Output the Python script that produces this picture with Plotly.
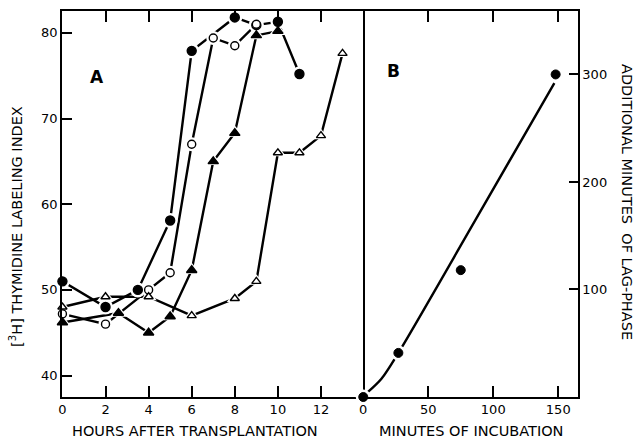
import plotly.graph_objects as go

# Panel A: [3H]thymidine labeling index vs hours after transplantation
hours_filled_circle = [0, 2, 3.5, 5, 6, 8, 9, 10, 11]
index_filled_circle = [51.0, 48.0, 50.0, 58.1, 77.9, 81.8, 80.9, 81.3, 75.2]

hours_open_circle = [0, 2, 4, 5, 6, 7, 8, 9]
index_open_circle = [47.2, 46.0, 50.0, 52.0, 67.0, 79.4, 78.5, 81.0]

hours_filled_tri = [0, 2.6, 4, 5, 6, 7, 8, 9, 10]
index_filled_tri = [46.2, 47.3, 45.0, 46.9, 52.3, 65.0, 68.3, 79.7, 80.2]

hours_open_tri = [0, 2, 4, 6, 8, 9, 10, 11, 12, 13]
index_open_tri = [48.0, 49.2, 49.2, 47.0, 49.0, 51.0, 66.0, 66.0, 68.0, 77.6]

# Panel B: additional lag-phase minutes vs minutes of incubation
incub_minutes = [0, 27, 75, 148]
lag_minutes = [0, 41, 118, 300]
curve_minutes = [3, 14, 27, 86, 147]
curve_lag = [4, 17, 41, 164, 292]

xticks_a = [0, 2, 4, 6, 8, 10, 12]
yticks_a = [40, 50, 60, 70, 80]
xticks_b = [0, 50, 100, 150]
yticks_b = [100, 200, 300]

FONT = "DejaVu Sans"
LW = 2.4
TITLE_SIZE = 14.5

fig = go.Figure()

series_a = [
    (hours_filled_circle, index_filled_circle, "circle", "black", 9),
    (hours_open_circle, index_open_circle, "circle", "white", 8),
    (hours_filled_tri, index_filled_tri, "triangle-up", "black", 9),
    (hours_open_tri, index_open_tri, "triangle-up", "white", 8),
]

# connecting lines first
for xs, ys, sym, fill, size in series_a:
    fig.add_trace(go.Scatter(x=xs, y=ys, mode="lines", xaxis="x", yaxis="y",
                             line=dict(color="black", width=LW),
                             hoverinfo="skip", cliponaxis=False))
fig.add_trace(go.Scatter(x=curve_minutes, y=curve_lag, mode="lines", xaxis="x2", yaxis="y2",
                         line=dict(color="black", width=LW, shape="spline", smoothing=0.8),
                         hoverinfo="skip", cliponaxis=False))

# white halos that break the lines around each symbol
for xs, ys, sym, fill, size in series_a:
    fig.add_trace(go.Scatter(x=xs, y=ys, mode="markers", xaxis="x", yaxis="y",
                             marker=dict(symbol=sym, size=size + 6, color="white",
                                         line=dict(width=0)),
                             hoverinfo="skip", cliponaxis=False))
fig.add_trace(go.Scatter(x=incub_minutes, y=lag_minutes, mode="markers", xaxis="x2", yaxis="y2",
                         marker=dict(symbol="circle", size=15, color="white", line=dict(width=0)),
                         hoverinfo="skip", cliponaxis=False))

# the symbols themselves
for xs, ys, sym, fill, size in series_a:
    fig.add_trace(go.Scatter(x=xs, y=ys, mode="markers", xaxis="x", yaxis="y",
                             marker=dict(symbol=sym, size=size, color=fill,
                                         line=dict(color="black", width=1.4)),
                             cliponaxis=False))
fig.add_trace(go.Scatter(x=incub_minutes, y=lag_minutes, mode="markers", xaxis="x2", yaxis="y2",
                         marker=dict(symbol="circle", size=9, color="black",
                                     line=dict(color="black", width=1)),
                         cliponaxis=False))

split = 301 / 516
axis_common = dict(showline=True, linecolor="black", linewidth=1.5, ticks="inside",
                   tickcolor="black", tickwidth=1.5, showgrid=False, zeroline=False,
                   tickfont=dict(family=FONT, size=13, color="black"))

fig.update_layout(
    width=637, height=441,
    margin=dict(l=62, r=59, t=9, b=44),
    paper_bgcolor="white", plot_bgcolor="white",
    showlegend=False,
    xaxis=dict(domain=[0, split], anchor="y", range=[-0.02, 13.95],
               tickvals=xticks_a, ticklen=11, mirror="ticks", **axis_common),
    yaxis=dict(domain=[0, 1], anchor="x", range=[37.5, 82.55],
               tickvals=yticks_a, ticklen=10, mirror=True, **axis_common),
    xaxis2=dict(domain=[split, 1], anchor="y2", range=[-0.2, 165.2],
                tickvals=xticks_b, ticklen=11, mirror="ticks", **axis_common),
    yaxis2=dict(domain=[0, 1], anchor="x2", side="right", range=[0, 359],
                tickvals=yticks_b, ticklen=9, mirror=False, **axis_common),
    annotations=[
        dict(text="<b>A</b>", x=1.6, y=74.8, xref="x", yref="y", showarrow=False,
             font=dict(family=FONT, size=17, color="black")),
        dict(text="<b>B</b>", x=23.5, y=303, xref="x2", yref="y2", showarrow=False,
             font=dict(family=FONT, size=17, color="black")),
        dict(text="HOURS AFTER TRANSPLANTATION", x=(195 - 62) / 516, y=(397 - 431) / 388,
             xref="paper", yref="paper", showarrow=False, xanchor="center", yanchor="middle",
             font=dict(family=FONT, size=TITLE_SIZE, color="black")),
        dict(text="MINUTES OF INCUBATION", x=(471 - 62) / 516, y=(397 - 431) / 388,
             xref="paper", yref="paper", showarrow=False, xanchor="center", yanchor="middle",
             font=dict(family=FONT, size=TITLE_SIZE, color="black")),
        dict(text="[<sup>3</sup>H] THYMIDINE LABELING INDEX", x=(16 - 62) / 516, y=(397 - 226) / 388,
             xref="paper", yref="paper", showarrow=False, textangle=-90,
             xanchor="center", yanchor="middle",
             font=dict(family=FONT, size=TITLE_SIZE, color="black")),
        dict(text="ADDITIONAL MINUTES  OF LAG-PHASE", x=(627 - 62) / 516, y=(397 - 201) / 388,
             xref="paper", yref="paper", showarrow=False, textangle=90,
             xanchor="center", yanchor="middle",
             font=dict(family=FONT, size=TITLE_SIZE, color="black")),
    ],
)

fig.write_html("out.html")
